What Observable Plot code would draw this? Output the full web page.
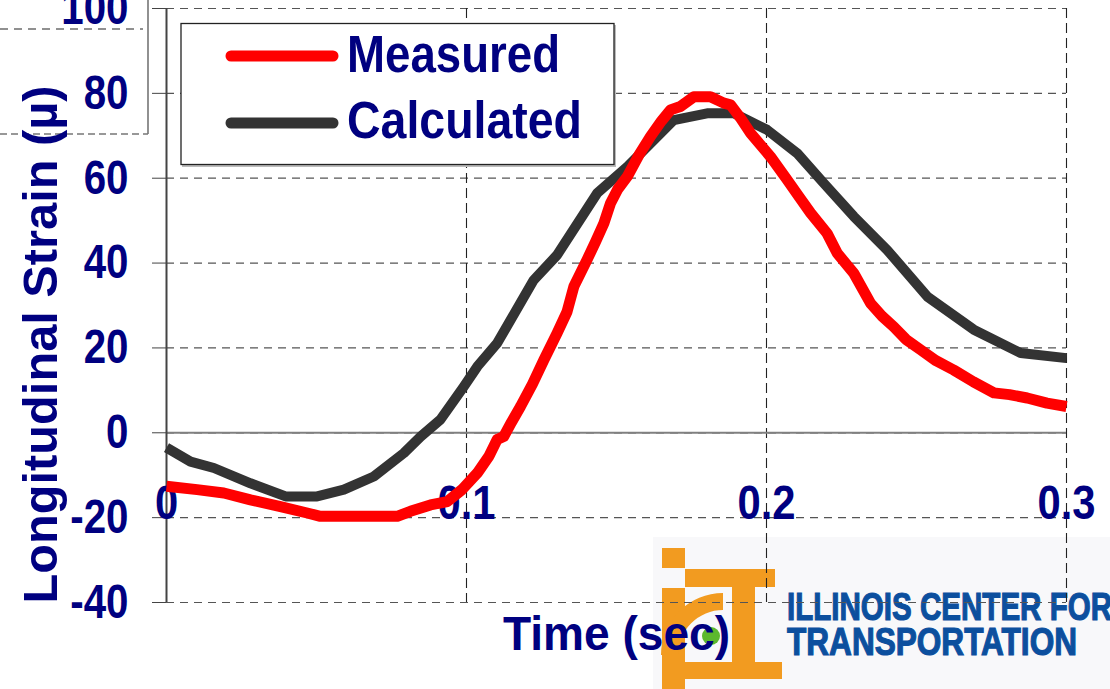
<!DOCTYPE html>
<html>
<head>
<meta charset="utf-8">
<script src="https://cdn.jsdelivr.net/npm/d3@7"></script>
<script src="https://cdn.jsdelivr.net/npm/@observablehq/plot@0.6"></script>
<style>
  html, body { margin: 0; padding: 0; background: #fff; }
  #wrap { position: relative; width: 1110px; height: 689px; overflow: hidden; }
  #wrap > svg { position: absolute; left: 0; top: 0; }
</style>
</head>
<body>
<div id="wrap"></div>
<script>
// Longitudinal strain under a passing load: measured gauge trace vs. model
const measuredTime = [0, 0.0102, 0.0191, 0.028, 0.038, 0.0469, 0.0513, 0.06, 0.07, 0.0769, 0.0813, 0.088, 0.0936,
  0.0985, 0.1036, 0.1075, 0.1102, 0.1124, 0.115, 0.118, 0.122, 0.1258, 0.1302, 0.1335, 0.1358, 0.1402, 0.143,
  0.1458, 0.148, 0.1505, 0.1536, 0.1575, 0.1613, 0.165, 0.168, 0.1713, 0.1758, 0.178, 0.1813, 0.1858, 0.188,
  0.1915, 0.1947, 0.2013, 0.2069, 0.211, 0.2147, 0.2202, 0.2236, 0.2291, 0.2347, 0.2385, 0.2424, 0.2465,
  0.2513, 0.2565, 0.2624, 0.2690, 0.2758, 0.2810, 0.2869, 0.2935, 0.3];
const measuredStrain = [-12.6, -13.4, -14.2, -15.8, -17.4, -18.9, -19.7, -19.7, -19.7, -19.7, -18.5, -17.0, -16.2,
  -13.4, -9.5, -5.5, -1.6, -0.9, 2.5, 6.2, 11.5, 17.2, 23.5, 28.5, 34.5, 40.8, 45.0,
  49.4, 54.1, 57.5, 60.4, 65.5, 69.8, 73.5, 76.1, 76.9, 79.2, 79.2, 79.2, 77.7, 77.3,
  74.0, 70.6, 65.1, 59.6, 55.5, 51.8, 47.0, 42.3, 37.6, 30.5, 27.5, 25.0, 22.0,
  19.6, 17.0, 14.8, 12.0, 9.4, 9.0, 8.2, 7.0, 6.2];

const calculatedTime = [0, 0.008, 0.0158, 0.028, 0.0397, 0.0502, 0.0591, 0.0691, 0.0791, 0.0847, 0.0913, 0.0991,
  0.1036, 0.1102, 0.1224, 0.1302, 0.1436, 0.1536, 0.1691, 0.1802, 0.1891, 0.2002, 0.2102, 0.2191, 0.2291,
  0.2402, 0.2536, 0.2691, 0.2847, 0.3];
const calculatedStrain = [-3.5, -6.8, -8.3, -11.9, -15.0, -15.0, -13.4, -10.3, -4.8, -0.9, 3.1, 10.9,
  15.6, 21.1, 36.0, 41.9, 56.5, 62.7, 73.7, 75.3, 75.3, 71.4, 65.9, 58.8, 51.0,
  43.1, 32.1, 24.3, 18.8, 17.6];

const seriesNames = ["Measured", "Calculated"];
const seriesColors = ["#ff0000", "#333333"];

const xTicks = [0, 0.1, 0.2, 0.3];
const yTicks = [-40, -20, 0, 20, 40, 60, 80, 100];
const xTitle = "Time (sec)";
const yTitle = "Longitudinal Strain (µ)";
const logoLines = ["ILLINOIS CENTER FOR", "TRANSPORTATION"];

const measured = measuredTime.map((t, i) => ({time: t, strain: measuredStrain[i]}));
const calculated = calculatedTime.map((t, i) => ({time: t, strain: calculatedStrain[i]}));

const navy = "#000080";
const font = "'Liberation Sans', Arial, sans-serif";
const NS = "http://www.w3.org/2000/svg";
const wrap = document.getElementById("wrap");

function el(tag, attrs, parent, text) {
  const e = document.createElementNS(NS, tag);
  for (const k in attrs) e.setAttribute(k, attrs[k]);
  if (text != null) e.textContent = text;
  if (parent) parent.appendChild(e);
  return e;
}

// Background layer: institute logo and the framed panel at the top left
const back = el("svg", {width: 1110, height: 689, viewBox: "0 0 1110 689"});
wrap.appendChild(back);
el("line", {x1: 148, y1: 0, x2: 148, y2: 134, stroke: "#555", "stroke-width": 1.3}, back);
el("line", {x1: 0, y1: 134, x2: 148, y2: 134, stroke: "#777", "stroke-width": 1.3, "stroke-dasharray": "7,4"}, back);
el("line", {x1: 0, y1: 29, x2: 143, y2: 29, stroke: "#222", "stroke-width": 1.2, "stroke-dasharray": "8,6"}, back);

const logo = el("g", {}, back);
el("rect", {x: 653, y: 537, width: 460, height: 160, fill: "#f8f8fa"}, logo);
const orange = "#f29b20";
el("rect", {x: 662, y: 548, width: 23, height: 20, fill: orange}, logo);
el("rect", {x: 685, y: 569, width: 90, height: 18, fill: orange}, logo);
el("rect", {x: 732, y: 569, width: 23, height: 95, fill: orange}, logo);
el("rect", {x: 685, y: 662, width: 97, height: 17, fill: orange}, logo);
el("rect", {x: 662, y: 588, width: 23, height: 110, fill: orange}, logo);
// quarter ring forming the "c"
el("path", {d: "M723,593 A62,62 0 0 0 661,655 L678,655 A45,45 0 0 1 723,610 Z", fill: orange}, logo);
el("circle", {cx: 711, cy: 636, r: 9, fill: "#5cb82e"}, logo);
el("text", {x: 787, y: 620, "font-family": font, "font-weight": "bold", "font-size": 38, fill: "#0c4f9e",
  stroke: "#0c4f9e", "stroke-width": 1.2, textLength: 325, lengthAdjust: "spacingAndGlyphs"}, logo, logoLines[0]);
el("text", {x: 787, y: 655, "font-family": font, "font-weight": "bold", "font-size": 38, fill: "#0c4f9e",
  stroke: "#0c4f9e", "stroke-width": 1.2, textLength: 290, lengthAdjust: "spacingAndGlyphs"}, logo, logoLines[1]);

// The chart itself
const chart = Plot.plot({
  width: 1110,
  height: 689,
  marginTop: 8,
  marginBottom: 87,
  marginLeft: 166,
  marginRight: 44,
  style: {background: "transparent", fontFamily: font, fontWeight: "bold", color: navy, overflow: "visible"},
  x: {domain: [0, 0.3]},
  y: {domain: [-40, 100]},
  marks: [
    Plot.gridY(yTicks, {stroke: "#555", strokeOpacity: 1, strokeWidth: 1.2, strokeDasharray: "8,6"}),
    Plot.gridX(xTicks.slice(1), {stroke: "#222", strokeOpacity: 1, strokeWidth: 1.1, strokeDasharray: "10,5"}),
    Plot.ruleY([0], {stroke: "#808080", strokeWidth: 2}),
    Plot.ruleX([0], {stroke: "#444", strokeWidth: 2}),
    Plot.axisY(yTicks, {tickSize: 14, tickPadding: 24, fontSize: 48, stroke: "#444", label: null,
      tickFormat: d => String(d)}),
    Plot.axisX(xTicks, {tickSize: 0, tickPadding: -118, fontSize: 48, label: null,
      tickFormat: d => String(d)}),
    Plot.line(calculated, {x: "time", y: "strain", stroke: seriesColors[1], strokeWidth: 10,
      strokeLinejoin: "round", strokeLinecap: "butt"}),
    Plot.line(measured, {x: "time", y: "strain", stroke: seriesColors[0], strokeWidth: 11,
      strokeLinejoin: "round", strokeLinecap: "butt"}),
    Plot.text([yTitle], {text: d => d, frameAnchor: "left", lineAnchor: "middle", rotate: -90,
      dx: -125, dy: 39, fontSize: 49, fill: navy}),
    Plot.text([xTitle], {text: d => d, frameAnchor: "bottom", lineAnchor: "middle",
      dy: 32, fontSize: 49, fill: navy})
  ]
});
wrap.appendChild(chart);

// Narrow the tick labels (tall, condensed lettering) around their anchors
chart.querySelectorAll('g[aria-label="y-axis tick label"] text, g[aria-label="x-axis tick label"] text').forEach(t => {
  const sx = t.closest('g[aria-label="y-axis tick label"]') ? 0.84 : 0.87;
  let tr = t.getAttribute("transform");
  if (!tr) {
    const x = t.getAttribute("x") || 0, y = t.getAttribute("y") || 0;
    t.removeAttribute("x"); t.removeAttribute("y");
    tr = `translate(${x},${y})`;
  }
  t.setAttribute("transform", tr + ` scale(${sx},1)`);
});
// Fit the axis titles to their lengths, measured from their start
function fitTitle(t, len) {
  t.setAttribute("text-anchor", "start");
  t.setAttribute("x", -len / 2);
  t.setAttribute("textLength", len);
  t.setAttribute("lengthAdjust", "spacingAndGlyphs");
}
chart.querySelectorAll("text").forEach(t => {
  if (t.textContent === yTitle) fitTitle(t, 518);
  if (t.textContent === xTitle) fitTitle(t, 227);
});

// Legend layer
const front = el("svg", {width: 1110, height: 689, viewBox: "0 0 1110 689"});
front.style.pointerEvents = "none";
wrap.appendChild(front);
el("rect", {x: 182, y: 25, width: 434, height: 142, fill: "#bbb"}, front);
el("rect", {x: 181, y: 23.5, width: 433, height: 141, fill: "#fff", stroke: "#222", "stroke-width": 1.3}, front);
const legendRows = [{y: 56, len: 213, base: 72}, {y: 123, len: 235, base: 138}];
seriesNames.forEach((name, i) => {
  const r = legendRows[i];
  el("line", {x1: 231, x2: 333, y1: r.y, y2: r.y, stroke: seriesColors[i], "stroke-width": 11, "stroke-linecap": "round"}, front);
  el("text", {x: 347, y: r.base, "font-family": font, "font-weight": "bold", "font-size": 51, fill: navy,
    textLength: r.len, lengthAdjust: "spacingAndGlyphs"}, front, name);
});
</script>
</body>
</html>
